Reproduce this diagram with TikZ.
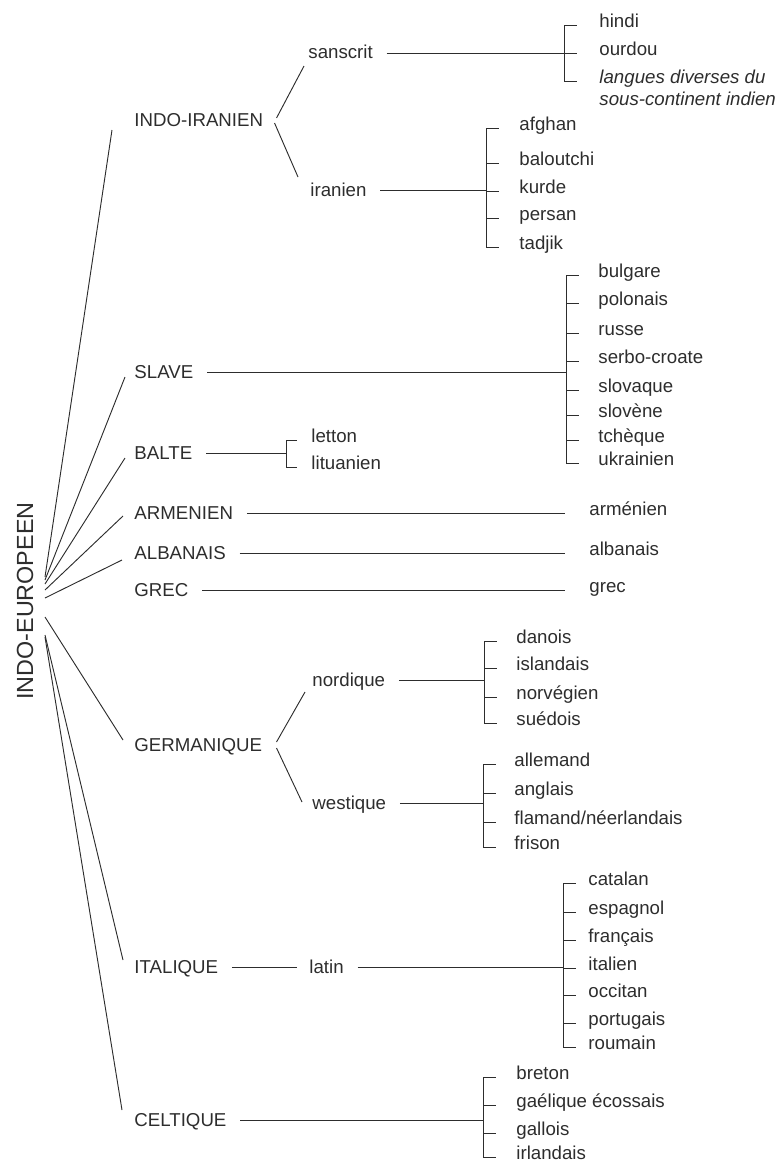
\documentclass[tikz,border=0pt]{standalone}
\usepackage{fontspec}
\setmainfont{Liberation Sans}
\usetikzlibrary{positioning,calc}
\definecolor{inkgray}{RGB}{45,45,45}

\begin{document}
\begin{tikzpicture}[
  x=0.75pt,y=-0.75pt,
  grp/.style={anchor=west,inner sep=0pt,text height=10pt,text depth=0pt,
              font=\fontsize{14}{17}\selectfont},
  lang/.style={anchor=west,inner sep=0pt,text height=7pt,text depth=3pt,
               font=\fontsize{14}{17}\selectfont},
  link/.style={shorten <=10pt},
  line width=0.7pt, color=inkgray
]
  \useasboundingbox (0,0) rectangle (784,1165);

  % root and main branches
  \node[rotate=90,inner sep=0pt,font=\fontsize{17.5}{20}\selectfont] (ie) at (25,601) {INDO-EUROPEEN};
  \coordinate (fan) at (45,600);

  \node[grp] (iir) at (134,120) {INDO-IRANIEN};
  \node[grp] (slave) at (134,372) {SLAVE};
  \node[grp] (balte) at (134,453) {BALTE};
  \node[grp] (arm) at (134,513) {ARMENIEN};
  \node[grp] (alb) at (134,553) {ALBANAIS};
  \node[grp] (grec) at (134,590) {GREC};
  \node[grp] (germ) at (134,745) {GERMANIQUE};
  \node[grp] (ital) at (134,967) {ITALIQUE};
  \node[grp] (celt) at (134,1120) {CELTIQUE};

  \foreach \n/\s/\dx/\dy in {iir/-23/-22/10,slave/-20/-9/5,balte/-16/-9/5,arm/-10/-11/3,
      alb/-2/-12/7,germ/17/-11/-5,ital/35/-11/-7,celt/37/-12/-10}
    \draw (fan) ++(0,\s) -- ($(\n.west)+(\dx,\dy)$);

  % indo-iranien
  \node[grp] (sans) at (308,52) {sanscrit};
  \node[grp] (iran) at (310,190) {iranien};
  \draw ($(iir.east)+(13,-2)$) -- ($(sans.west)+(-4,14)$);
  \draw ($(iir.east)+(11,3)$) -- ($(iran.west)+(-12,-13)$);

  \coordinate (sab) at (564,53);
  \draw[link] (sans.east |- sab) -- (sab);
  \node[lang] (sa1) at (599,25) {hindi};
  \node[lang] (sa2) at (599,53) {ourdou};
  \node[lang,font=\fontsize{14}{17}\selectfont\itshape] (sa3) at (599,81) {langues diverses du};
  \node[lang,font=\fontsize{14}{17}\selectfont\itshape] (sa4) at ([yshift=-16.5pt]sa3.west) {sous-continent indien};
  \foreach \k in {1,2,3}
    \draw (sab |- sa\k.west) -- ++(13,0);
  \draw (sab |- sa1.west) -- (sab |- sa3.west);

  \coordinate (irb) at (486,190);
  \draw[link] (iran.east |- irb) -- (irb);
  \foreach \y/\t [count=\i] in {128/afghan,163/baloutchi,191/kurde,218/persan,247/tadjik}{
    \node[lang] (ir\i) at (519,\y) {\t};
    \draw (irb |- ir\i.west) -- ++(13,0);
  }
  \draw (irb |- ir1.west) -- (irb |- ir5.west);

  % slave
  \coordinate (slb) at (566,372);
  \draw[link] (slave.east) -- (slb);
  \foreach \y/\t [count=\i] in {275/bulgare,303/polonais,333/russe,361/serbo-croate,
      390/slovaque,415/slovène,440/tchèque,463/ukrainien}{
    \node[lang] (sl\i) at (598,\y) {\t};
    \draw (slb |- sl\i.west) -- ++(13,0);
  }
  \draw (slb |- sl1.west) -- (slb |- sl8.west);

  % balte
  \coordinate (bab) at (286,453);
  \draw[link] (balte.east) -- (bab);
  \foreach \y/\t [count=\i] in {440/letton,467/lituanien}{
    \node[lang] (ba\i) at (311,\y) {\t};
    \draw (bab |- ba\i.west) -- ++(11,0);
  }
  \draw (bab |- ba1.west) -- (bab |- ba2.west);

  % single languages
  \node[lang] (armx) at (589,513) {arménien};
  \node[lang] (albx) at (589,553) {albanais};
  \node[lang] (grx) at (589,590) {grec};
  \draw[link,shorten >=18pt] (arm.east) -- (armx.west);
  \draw[link,shorten >=18pt] (alb.east) -- (albx.west);
  \draw[link,shorten >=18pt] (grec.east) -- (grx.west);

  % germanique
  \node[grp] (nordi) at (312,680) {nordique};
  \node[grp] (westi) at (312,803) {westique};
  \draw ($(germ.east)+(14,-3)$) -- ($(nordi.west)+(-7,12)$);
  \draw ($(germ.east)+(14,3)$) -- ($(westi.west)+(-10,-1)$);

  \coordinate (nob) at (484,680);
  \draw[link] (nordi.east) -- (nob);
  \foreach \y/\t [count=\i] in {641/danois,668/islandais,697/norvégien,723/suédois}{
    \node[lang] (no\i) at (516,\y) {\t};
    \draw (nob |- no\i.west) -- ++(13,0);
  }
  \draw (nob |- no1.west) -- (nob |- no4.west);

  \coordinate (web) at (483,803);
  \draw[link] (westi.east) -- (web);
  \foreach \y/\t [count=\i] in {764/allemand,793/anglais,822/{flamand/néerlandais},847/frison}{
    \node[lang] (we\i) at (514,\y) {\t};
    \draw (web |- we\i.west) -- ++(13,0);
  }
  \draw (web |- we1.west) -- (web |- we4.west);

  % italique
  \node[grp] (latin) at (309,967) {latin};
  \draw[link] (ital.east) -- ($(latin.west)+(-12,0)$);
  \coordinate (lab) at (563,967);
  \draw[link] (latin.east) -- (lab);
  \foreach \y/\t [count=\i] in {883/catalan,912/espagnol,940/français,968/italien,
      995/occitan,1023/portugais,1047/roumain}{
    \node[lang] (la\i) at (588,\y) {\t};
    \draw (lab |- la\i.west) -- ++(13,0);
  }
  \draw (lab |- la1.west) -- (lab |- la7.west);

  % celtique
  \coordinate (ceb) at (483,1120);
  \draw[link] (celt.east) -- (ceb);
  \foreach \y/\t [count=\i] in {1077/breton,1105/{gaélique écossais},1133/gallois,1157/irlandais}{
    \node[lang] (ce\i) at (516,\y) {\t};
    \draw (ceb |- ce\i.west) -- ++(13,0);
  }
  \draw (ceb |- ce1.west) -- (ceb |- ce4.west);
\end{tikzpicture}
\end{document}
